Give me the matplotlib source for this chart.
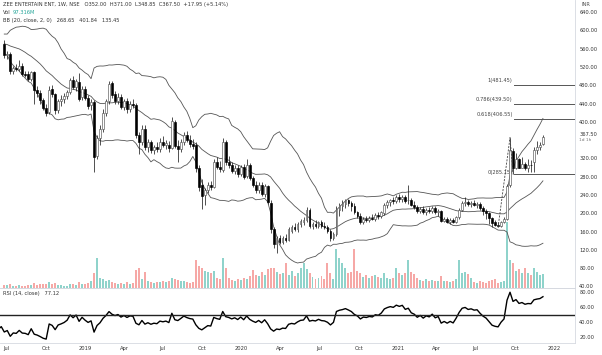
import numpy as np
import pandas as pd
import matplotlib.pyplot as plt
import matplotlib.dates as mdates

# weekly bars of ZEE ENTERTAIN ENT (NSE), first bar week of 25 Jun 2018, last 6 Dec 2021
opens = [570, 545, 548, 510, 518, 515, 522, 505, 505, 494,
         508, 470, 462, 448, 430, 422, 472, 460, 425, 445,
         450, 456, 466, 492, 476, 488, 455, 472, 452, 436,
         443, 325, 365, 385, 420, 445, 485, 460, 446, 455,
         432, 445, 428, 440, 437, 372, 355, 385, 345, 355,
         338, 345, 340, 356, 350, 350, 342, 400, 348, 340,
         355, 372, 360, 352, 350, 298, 262, 240, 250, 262,
         258, 312, 302, 295, 355, 312, 305, 292, 300, 285,
         302, 282, 306, 278, 262, 250, 262, 242, 260, 222,
         165, 132, 145, 138, 146, 142, 162, 170, 165, 176,
         180, 186, 208, 172, 176, 172, 180, 172, 170, 162,
         146, 155, 208, 215, 220, 228, 222, 215, 202, 195,
         180, 188, 186, 190, 188, 196, 194, 200, 218, 224,
         228, 226, 235, 232, 236, 228, 230, 218, 214, 205,
         210, 202, 208, 205, 212, 202, 205, 184, 188, 182,
         186, 181, 192, 208, 222, 225, 220, 222, 219, 220,
         212, 205, 200, 190, 182, 174, 172, 181, 188, 262,
         336, 300, 318, 300, 308, 300, 306, 312, 338, 345,
         352]
highs = [578, 555, 552, 522, 526, 535, 528, 512, 510, 512,
         512, 478, 470, 452, 438, 478, 480, 462, 450, 458,
         462, 470, 495, 500, 494, 507, 478, 478, 458, 450,
         448, 372, 392, 428, 450, 490, 490, 468, 462, 460,
         450, 452, 445, 450, 442, 378, 392, 392, 362, 360,
         350, 355, 365, 368, 360, 358, 410, 405, 360, 362,
         378, 380, 372, 362, 356, 305, 275, 255, 268, 270,
         318, 322, 315, 365, 360, 325, 312, 305, 306, 305,
         308, 318, 310, 282, 270, 268, 268, 265, 262, 228,
         170, 150, 152, 150, 155, 170, 175, 178, 180, 188,
         192, 214, 212, 182, 185, 184, 186, 180, 175, 166,
         160, 215, 222, 228, 232, 232, 226, 222, 206, 200,
         192, 195, 194, 198, 200, 202, 206, 222, 228, 232,
         236, 240, 242, 240, 240, 262, 234, 226, 218, 214,
         215, 212, 214, 216, 215, 210, 208, 192, 192, 190,
         190, 195, 212, 226, 236, 230, 226, 228, 224, 224,
         216, 210, 202, 193, 185, 180, 184, 192, 265, 365.45,
         342, 332, 320, 322, 312, 318, 316, 345, 358, 356,
         371]
lows = [540, 538, 505, 505, 510, 510, 500, 498, 490, 490,
        440, 455, 440, 425, 412, 418, 455, 418, 420, 435,
        442, 450, 460, 472, 468, 445, 448, 448, 428, 425,
        290, 318, 350, 378, 412, 440, 452, 440, 440, 428,
        425, 420, 422, 430, 365, 330, 350, 338, 335, 332,
        330, 335, 335, 345, 340, 335, 340, 342, 312, 335,
        350, 355, 345, 340, 290, 248, 210, 218, 245, 250,
        255, 296, 290, 290, 305, 300, 288, 285, 280, 282,
        275, 278, 272, 258, 245, 244, 238, 235, 220, 158,
        125, 114, 132, 133, 138, 140, 158, 162, 160, 170,
        175, 182, 168, 165, 168, 168, 168, 165, 158, 140,
        142, 150, 195, 205, 212, 215, 205, 198, 190, 176,
        176, 182, 180, 185, 184, 188, 190, 196, 212, 215,
        220, 222, 225, 224, 222, 220, 215, 210, 200, 200,
        198, 196, 200, 200, 198, 195, 180, 180, 178, 177,
        178, 178, 188, 204, 216, 216, 214, 216, 212, 208,
        196, 188, 176, 170, 172, 169.15, 170, 178, 185, 258,
        285.15, 296, 300, 298, 295, 290, 290, 290, 330, 338,
        348.85]
closes = [545, 548, 510, 518, 515, 522, 505, 503, 494, 508,
          470, 462, 448, 430, 420, 470, 460, 425, 445, 450,
          456, 466, 492, 476, 490, 450, 472, 452, 435, 443,
          322, 365, 385, 420, 445, 482, 458, 446, 455, 432,
          445, 428, 440, 437, 372, 355, 385, 345, 355, 338,
          345, 340, 356, 350, 354, 342, 402, 348, 340, 355,
          372, 360, 352, 348, 298, 258, 238, 250, 262, 258,
          312, 302, 296, 355, 312, 305, 292, 300, 285, 302,
          280, 306, 278, 262, 250, 262, 242, 260, 225, 165,
          132, 145, 138, 146, 142, 165, 170, 165, 176, 184,
          186, 208, 172, 176, 172, 180, 172, 170, 162, 145,
          155, 210, 218, 222, 228, 222, 215, 202, 195, 180,
          188, 186, 190, 188, 196, 194, 202, 218, 224, 228,
          226, 235, 232, 236, 226, 230, 218, 214, 205, 210,
          202, 208, 205, 212, 202, 205, 184, 188, 182, 186,
          181, 192, 208, 222, 225, 220, 222, 219, 220, 212,
          205, 200, 190, 178, 174, 172, 181, 188, 260, 338,
          300, 318, 300, 308, 300, 306, 305, 338, 345, 349.55,
          367.5]
# volume in millions
volume = [22, 18, 25, 15, 14, 18, 16, 15, 20, 18,
          35, 22, 25, 28, 30, 40, 25, 35, 22, 18,
          15, 16, 25, 30, 22, 40, 28, 30, 35, 45,
          105, 210, 70, 60, 50, 55, 40, 35, 30, 35,
          30, 38, 30, 32, 125, 140, 60, 110, 45, 40,
          35, 38, 40, 45, 42, 50, 70, 60, 55, 45,
          50, 40, 35, 40, 195, 150, 140, 120, 110, 100,
          120, 70, 60, 210, 140, 70, 55, 50, 60, 55,
          70, 65, 80, 125, 90, 80, 110, 90, 130, 135,
          140, 110, 95, 100, 175, 90, 120, 80, 105, 140,
          175, 130, 105, 75, 60, 70, 80, 60, 175, 100,
          60, 270, 210, 175, 140, 100, 110, 270, 120, 100,
          75, 90, 70, 80, 90, 75, 70, 100, 70, 60,
          70, 140, 100, 90, 100, 190, 110, 95, 70, 55,
          50, 60, 45, 55, 50, 45, 80, 50, 45, 40,
          45, 60, 195, 105, 110, 95, 70, 40, 35, 45,
          40, 35, 45, 55, 60, 35, 40, 45, 455, 190,
          170, 120, 130, 100, 140, 100, 90, 140, 110, 90,
          97.316]

# closes of the 19 weeks before the window (Feb-Jun 2018), only to warm up BB and RSI
pre_closes = [580, 572, 560, 555, 568, 575, 582, 590, 585, 578,
              570, 565, 572, 580, 575, 562, 558, 565, 570]

fib_levels = ["0", "0.618", "0.786", "1"]
fib_values = [285.15, 406.55, 439.50, 481.45]

price_ticks = [40, 80, 120, 160, 200, 240, 280, 320, 400, 440, 480, 520, 560, 600, 640]
rsi_ticks = [20, 40, 60, 80]
tick_dates = ["2018-07-01", "2018-10-01", "2019-01-01", "2019-04-01", "2019-07-01",
              "2019-10-01", "2020-01-01", "2020-04-01", "2020-07-01", "2020-10-01",
              "2021-01-01", "2021-04-01", "2021-07-01", "2021-10-01", "2022-01-01"]
tick_labels = ["Jul", "Oct", "2019", "Apr", "Jul", "Oct", "2020", "Apr", "Jul", "Oct",
               "2021", "Apr", "Jul", "Oct", "2022"]

dates = pd.date_range("2018-06-25", periods=len(closes), freq="7D")
pre_dates = pd.date_range(end="2018-06-18", periods=len(pre_closes), freq="7D")
x = mdates.date2num(dates)

o = np.array(opens, float)
h = np.array(highs, float)
l = np.array(lows, float)
c = np.array(closes, float)
v = np.array(volume, float)

# indicators
allc = pd.Series(list(pre_closes) + list(closes), index=pre_dates.append(dates))
basis = allc.rolling(20).mean()
dev = allc.rolling(20).std(ddof=0)
upper = basis + 2 * dev
lower = basis - 2 * dev
delta = allc.diff()
up = delta.clip(lower=0).ewm(alpha=1 / 14, adjust=False).mean()
dn = (-delta.clip(upper=0)).ewm(alpha=1 / 14, adjust=False).mean()
rsi = 100 - 100 / (1 + up / dn)

txt = "#333333"
fs = 3.7

fig = plt.figure(figsize=(6.02, 3.55), dpi=100)
ax = fig.add_axes([0, 1 - 288 / 355, 575 / 602, 288 / 355])
axv = ax.twinx()
rax = fig.add_axes([0, 1 - 343 / 355, 575 / 602, 55 / 355], sharex=ax)

# volume
rising = c >= o
axv.bar(x, v, width=4.6, color=np.where(rising, "#8fd3cb", "#f6a8a6"), linewidth=0)
axv.set_ylim(0, 455 * 288 / 66)
axv.axis("off")
ax.set_zorder(axv.get_zorder() + 1)
ax.patch.set_visible(False)

# candles
ax.vlines(x, l, h, color="#222222", linewidth=0.55, zorder=3)
ax.bar(x, np.maximum(np.abs(c - o), 0.8), bottom=np.minimum(o, c), width=4.2,
       color=np.where(rising, "white", "black"), edgecolor=np.where(rising, "#555555", "black"),
       linewidth=0.45, zorder=4)

# bollinger bands
bx = mdates.date2num(allc.index)
for band in (upper, basis, lower):
    ax.plot(bx, band.values, color="#555555", linewidth=0.6, zorder=2)

# fib extension drawing
pts = [165, 169, 170]
ax.plot(x[pts], [l[165], h[169], l[170]], color="#444444", linewidth=0.6,
        linestyle=(0, (2.5, 1.5)), zorder=5)
xr = mdates.date2num(pd.Timestamp("2022-02-19"))
for name, val in zip(fib_levels, fib_values):
    ax.plot([x[170] + 1.5, xr], [val, val], color="#555555", linewidth=0.7, zorder=2)
    ax.text(x[170] - 1, val + 4, f"{name}({val:.2f})", fontsize=fs, color="#444444",
            ha="right", va="bottom" if name != "0" else "center")

ax.set_xlim(mdates.date2num(pd.Timestamp("2018-06-15")), xr)
ax.set_ylim(640 - 276 * 40 / 18.3, 640 + 12 * 40 / 18.3)
ax.yaxis.tick_right()
ax.set_yticks(price_ticks)
ax.set_yticklabels([f"{t:.2f}" for t in price_ticks])
ax.tick_params(axis="y", length=0, pad=3, labelsize=fs, labelcolor=txt)
ax.tick_params(axis="x", length=0, labelbottom=False)
ax.annotate("367.50", xy=(1, c[-1]), xycoords=("axes fraction", "data"), xytext=(3, 1.5),
            textcoords="offset points", fontsize=fs, color=txt, va="center")
ax.annotate("1d 1h", xy=(1, c[-1]), xycoords=("axes fraction", "data"), xytext=(3, -2.5),
            textcoords="offset points", fontsize=fs - 0.6, color="#777777", va="center")

# RSI pane
rax.plot(mdates.date2num(allc.index), rsi.values, color="black", linewidth=1.0)
rax.axhline(50, color="#222222", linewidth=1.0)
rax.set_ylim(80 - 51 / 0.755, 80 + 4 / 0.755)
rax.yaxis.tick_right()
rax.set_yticks(rsi_ticks)
rax.set_yticklabels([f"{t:.2f}" for t in rsi_ticks])
rax.tick_params(axis="y", length=0, pad=3, labelsize=fs, labelcolor=txt)
rax.set_xticks(mdates.date2num(pd.to_datetime(tick_dates)))
rax.set_xticklabels(tick_labels)
rax.tick_params(axis="x", length=0, pad=2.5, labelsize=fs, labelcolor=txt)

for a in (ax, rax):
    for s in a.spines.values():
        s.set_color("#d6d9e0")
        s.set_linewidth(0.6)
    a.spines["left"].set_visible(False)
ax.spines["top"].set_visible(False)

# legend texts
fig.text(3 / 602, 1 - 4.5 / 355, "ZEE ENTERTAIN ENT, 1W, NSE   O352.00  H371.00  L348.85  C367.50  +17.95 (+5.14%)",
         fontsize=fs, color=txt, va="center")
fig.text(3 / 602, 1 - 12.5 / 355, "Vol", fontsize=fs, color=txt, va="center")
fig.text(13 / 602, 1 - 12.5 / 355, "97.316M", fontsize=fs, color="#26a69a", va="center")
fig.text(3 / 602, 1 - 20.5 / 355, "BB (20, close, 2, 0)   268.65   401.84   135.45",
         fontsize=fs, color=txt, va="center")
fig.text(3 / 602, 1 - 293 / 355, "RSI (14, close)   77.12", fontsize=fs, color=txt, va="center")
fig.text(582 / 602, 1 - 4 / 355, "INR", fontsize=fs, color="#555555", va="center")

fig.savefig("out.png", dpi=100)
